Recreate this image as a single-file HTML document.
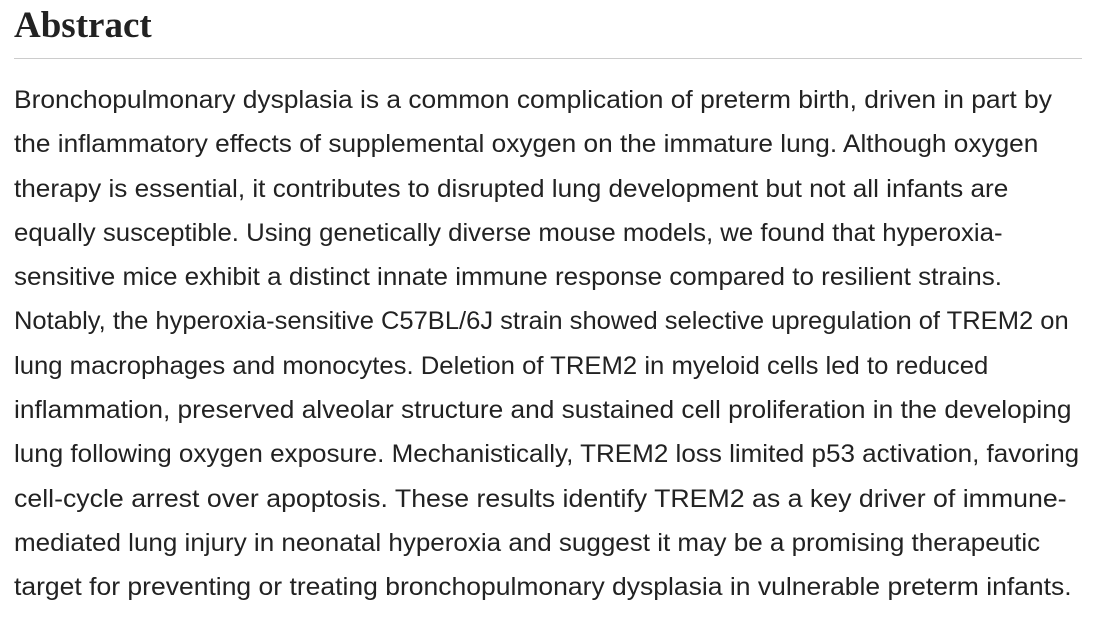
<!DOCTYPE html>
<html><head><meta charset="utf-8"><style>
html,body{margin:0;padding:0;background:#fff;width:1108px;height:628px;overflow:hidden}
h1{position:absolute;left:14px;top:4px;margin:0;font-family:"Liberation Serif",serif;font-weight:bold;font-size:37px;color:#222}
.rule{position:absolute;left:14px;top:58px;width:1068px;height:1px;background:#ccc}
.t{position:absolute;left:14px;top:78px;font-family:"Liberation Sans",sans-serif;font-size:25px;line-height:44.3px;color:#222;white-space:nowrap}
.t div{transform-origin:0 0;height:44.3px}
</style></head><body>
<h1>Abstract</h1>
<div class="rule"></div>
<div class="t">
<div style="transform:scaleX(1.055)">Bronchopulmonary dysplasia is a common complication of preterm birth, driven in part by</div>
<div style="transform:scaleX(1.049)">the inflammatory effects of supplemental oxygen on the immature lung. Although oxygen</div>
<div style="transform:scaleX(1.046)">therapy is essential, it contributes to disrupted lung development but not all infants are</div>
<div style="transform:scaleX(1.031)">equally susceptible. Using genetically diverse mouse models, we found that hyperoxia-</div>
<div style="transform:scaleX(1.041)">sensitive mice exhibit a distinct innate immune response compared to resilient strains.</div>
<div style="transform:scaleX(1.021)">Notably, the hyperoxia-sensitive C57BL/6J strain showed selective upregulation of TREM2 on</div>
<div style="transform:scaleX(1.027)">lung macrophages and monocytes. Deletion of TREM2 in myeloid cells led to reduced</div>
<div style="transform:scaleX(1.051)">inflammation, preserved alveolar structure and sustained cell proliferation in the developing</div>
<div style="transform:scaleX(1.041)">lung following oxygen exposure. Mechanistically, TREM2 loss limited p53 activation, favoring</div>
<div style="transform:scaleX(1.068)">cell-cycle arrest over apoptosis. These results identify TREM2 as a key driver of immune-</div>
<div style="transform:scaleX(1.040)">mediated lung injury in neonatal hyperoxia and suggest it may be a promising therapeutic</div>
<div style="transform:scaleX(1.060)">target for preventing or treating bronchopulmonary dysplasia in vulnerable preterm infants.</div>
</div>
</body></html>
